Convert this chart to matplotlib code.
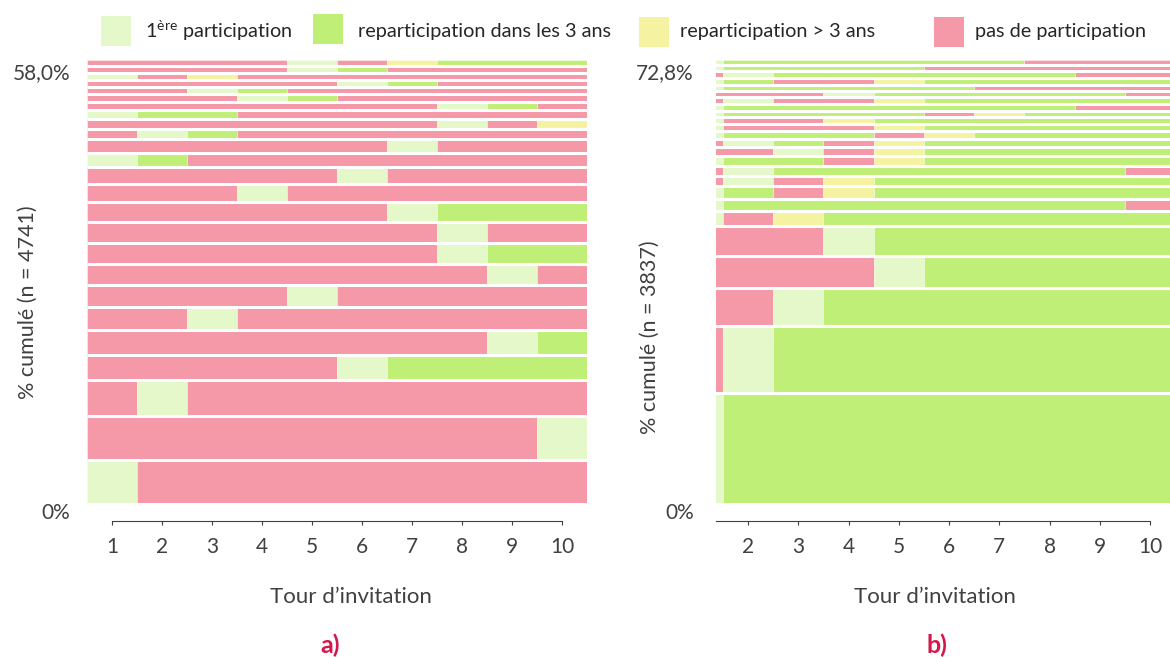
import numpy as np
import matplotlib.pyplot as plt
from matplotlib.patches import Rectangle
from matplotlib.transforms import ScaledTranslation

plt.rcParams['font.family'] = ['Lato', 'DejaVu Sans']
plt.rcParams['mathtext.fontset'] = 'custom'
plt.rcParams['mathtext.rm'] = 'Lato'

# states: L = 1ere participation, G = reparticipation <= 3 ans,
#         Y = reparticipation > 3 ans, P = pas de participation
colors = {'L': '#E4F8C9', 'G': '#C0EF77', 'Y': '#F5F3A2', 'P': '#F598A8'}
legend_labels = ['1$^{\\mathrm{ère}}$ participation', 'reparticipation dans les 3 ans',
                 'reparticipation > 3 ans', 'pas de participation']
rounds = np.arange(1, 11)

# panel a (n = 4741), rows from bottom to top, height in % of people
heights_a = [5.66, 5.64, 4.72, 3.34, 3.24, 3.05, 2.84, 2.75, 2.75, 2.75, 2.63, 2.39, 2.27,
             1.86, 1.83, 1.31, 1.27, 1.19, 1.07, 1.01, 0.96, 0.92, 0.89, 0.88, 0.78]
paths_a = ["LPPPPPPPPP", "PPPPPPPPPL", "PLPPPPPPPP", "PPPPPLGGGG", "PPPPPPPPLG",
           "PPLPPPPPPP", "PPPPLPPPPP", "PPPPPPPPLP", "PPPPPPPLGG", "PPPPPPPLPP",
           "PPPPPPLGGG", "PPPLPPPPPP", "PPPPPLPPPP", "LGPPPPPPPP", "PPPPPPLPPP",
           "PLGPPPPPPP", "PPPPPPPLPY", "LGGPPPPPPP", "PPPPPPPLGP", "PPPLGPPPPP",
           "PPLGPPPPPP", "PPPPPLGPPP", "LPYPPPPPPP", "PPPPLGPPPP", "PPPPLPYGGG"]

# panel b (n = 3837)
heights_b = [18.0, 11.1, 6.3, 5.2, 4.9, 2.5, 2.0, 2.1, 1.7, 1.6, 1.6, 1.5, 1.3,
             1.3, 1.2, 1.2, 1.0, 1.1, 1.1, 1.1, 1.0, 1.15, 1.0, 1.0, 0.85]
paths_b = ["LGGGGGGGGG", "PLGGGGGGGG", "PPLGGGGGGG", "PPPPLGGGGG", "PPPLGGGGGG",
           "LPYGGGGGGG", "LGGGGGGGGP", "LGPYGGGGGG", "PLPYGGGGGG", "PLGGGGGGGP",
           "LGGPYGGGGG", "PPLPYGGGGG", "PLGPYGGGGG", "LGGGPYGGGG", "LPPPYGGGGG",
           "LPPYGGGGGG", "LGGGGPYGGG", "LGGGGGGGPP", "PLPPYGGGGG", "PPPLGGGGGP",
           "LGGGGGPPPP", "LGPPYGGGGG", "PLGGGGGGPP", "LGGGGPPPPP", "LGGGGGGPPP"]

W, H = 1170, 657
fig = plt.figure(figsize=(W / 100, H / 100), dpi=100)
txt = '#404040'


def draw(ax, heights, paths, xlim, top_label, ticks, ypad):
    heights = np.array(heights)
    bottoms = np.concatenate([[0], np.cumsum(heights)[:-1]])
    # one rectangle per run of identical states
    for b, h, p in zip(bottoms, heights, paths):
        start = 0
        for i in range(1, len(p) + 1):
            if i == len(p) or p[i] != p[start]:
                ax.barh(b, i - start, left=rounds[start] - 0.5, height=h, align='edge',
                        color=colors[p[start]], edgecolor=(1, 1, 1, 0.45), linewidth=0.6)
                start = i
    ax.hlines(bottoms[1:], 0.5, 10.5, color='white', lw=2.2)
    total = heights.sum()
    ax.set_xlim(*xlim)
    ax.set_ylim(0, total)
    for s in ['top', 'right', 'left']:
        ax.spines[s].set_visible(False)
    ax.spines['bottom'].set_position(('outward', 13))
    ax.spines['bottom'].set_bounds(max(xlim[0], 1), 10)
    ax.spines['bottom'].set_color(txt)
    ax.set_xticks(ticks)
    ax.tick_params(axis='x', direction='out', length=3, color=txt, labelcolor=txt,
                   labelsize=15, pad=9)
    ax.set_yticks([0, total], ['0%', top_label])
    ax.tick_params(axis='y', length=0, labelcolor=txt, labelsize=15, pad=ypad)
    offs = [-8, -11]
    for lab, dy in zip(ax.get_yticklabels(), offs):
        lab.set_transform(lab.get_transform() + ScaledTranslation(0, dy / 100, fig.dpi_scale_trans))
    ax.set_xlabel("Tour d’invitation", fontsize=16, color=txt)


ax_a = fig.add_axes([87 / W, 1 - 502.7 / H, 500 / W, 442.5 / H])
draw(ax_a, heights_a, paths_a, (0.5, 10.5), '58,0%', rounds, 12)
ax_a.xaxis.set_label_coords((351 - 87) / 500, (502.7 - 597) / 442.5)
ax_a.xaxis.label.set_va('center')

ax_b = fig.add_axes([716 / W, 1 - 502.7 / H, 454 / W, 442.5 / H])
draw(ax_b, heights_b, paths_b, (1.363, 10.398), '72,8%', rounds[1:], 16)
ax_b.xaxis.set_label_coords((935 - 716) / 454, (502.7 - 597) / 442.5)
ax_b.xaxis.label.set_va('center')

fig.text(28 / W, 1 - 302 / H, '% cumulé (n = 4741)', rotation=90, ha='center', va='center',
         fontsize=15.5, color=txt)
fig.text(650 / W, 1 - 337 / H, '% cumulé (n = 3837)', rotation=90, ha='center', va='center',
         fontsize=15.5, color=txt)

fig.text(330 / W, 1 - 645 / H, 'a)', ha='center', va='center', fontsize=18,
         fontweight='bold', color='#D6174B')
fig.text(937 / W, 1 - 645 / H, 'b)', ha='center', va='center', fontsize=18,
         fontweight='bold', color='#D6174B')

# legend
patch_x = [101, 313, 639, 934]
patch_y = [16, 14, 17, 17]
text_x = [145, 358, 680, 975]
for k, key in enumerate(['L', 'G', 'Y', 'P']):
    fig.add_artist(Rectangle((patch_x[k] / W, 1 - (patch_y[k] + 30) / H), 30 / W, 30 / H,
                             transform=fig.transFigure, color=colors[key], lw=0))
    fig.text(text_x[k] / W, 1 - 31 / H, legend_labels[k], ha='left', va='center',
             fontsize=14.3, color='#262626')

fig.savefig('out.png', dpi=100)
